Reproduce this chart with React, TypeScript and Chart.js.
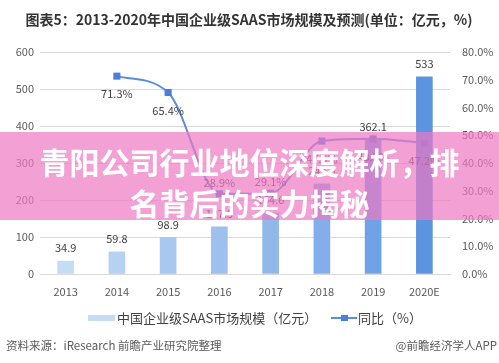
import React, { useEffect, useRef } from 'react';
import { Chart, registerables } from 'chart.js';

Chart.register(...registerables);

const categories = ['2013', '2014', '2015', '2016', '2017', '2018', '2019', '2020E'];
const marketSize = [34.9, 59.8, 98.9, 127.5, 164.6, 243.5, 362.1, 533];
const growthRate: (number | null)[] = [null, 71.3, 65.4, 28.9, 29.1, 47.9, 48.7, 47.2];
const barColors = ['#c6dcf5', '#b6d1f2', '#a9c8f0', '#9dc0ee', '#90b8eb', '#82afe9', '#70a3e6', '#5b95e2'];
const lineLabelSide = ['below', 'below', 'below', 'above', 'above', 'below', 'below', 'below'];

const titleText = '图表5：2013-2020年中国企业级SAAS市场规模及预测(单位：亿元，%)';
const barLegend = '中国企业级SAAS市场规模（亿元）';
const lineLegend = '同比（%）';
const sourceLeft = '资料来源：iResearch 前瞻产业研究院整理';
const sourceRight = '@前瞻经济学人APP';
const bannerLines = ['青阳公司行业地位深度解析，排', '名背后的实力揭秘'];

const FONT = '"Noto Sans CJK SC", "Noto Sans", sans-serif';
const LINE_COLOR = '#5b8ed9';
const MARK_COLOR = '#4a80d5';

const textPlugin = {
  id: 'textPlugin',
  afterDatasetsDraw(chart: any) {
    const ctx = chart.ctx;
    ctx.save();
    ctx.font = `11px ${FONT}`;
    ctx.fillStyle = '#404040';
    ctx.textAlign = 'center';
    ctx.textBaseline = 'middle';
    const barMeta = chart.getDatasetMeta(1);
    barMeta.data.forEach((el: any, i: number) => {
      ctx.fillText(String(marketSize[i]), el.x, el.y - 13);
    });
    const lineMeta = chart.getDatasetMeta(0);
    lineMeta.data.forEach((el: any, i: number) => {
      const v = growthRate[i];
      if (v == null) return;
      const dy = lineLabelSide[i] === 'above' ? -11 : 18;
      ctx.fillText(v.toFixed(1) + '%', el.x, el.y + dy);
    });
    ctx.restore();
  },
  afterDraw(chart: any) {
    const ctx = chart.ctx;
    ctx.save();
    // title
    ctx.font = `bold 14px ${FONT}`;
    ctx.fillStyle = '#333333';
    ctx.textAlign = 'center';
    ctx.textBaseline = 'middle';
    ctx.fillText(titleText, 249, 20);
    // legend
    ctx.fillStyle = barColors[0];
    ctx.fillRect(88, 315, 27, 6);
    ctx.font = `13px ${FONT}`;
    ctx.fillStyle = '#404040';
    ctx.textAlign = 'left';
    ctx.fillText(barLegend, 117, 318);
    ctx.strokeStyle = LINE_COLOR;
    ctx.lineWidth = 2;
    ctx.beginPath();
    ctx.moveTo(331, 318);
    ctx.lineTo(357, 318);
    ctx.stroke();
    ctx.fillStyle = MARK_COLOR;
    ctx.fillRect(341, 315, 7, 6);
    ctx.fillStyle = '#404040';
    ctx.fillText(lineLegend, 358, 318);
    // source
    ctx.font = `11.5px ${FONT}`;
    ctx.fillStyle = '#595959';
    ctx.textAlign = 'left';
    ctx.fillText(sourceLeft, 6, 346);
    ctx.textAlign = 'right';
    ctx.fillText(sourceRight, 497, 346);
    ctx.restore();
  },
};

export default function App() {
  const ref = useRef<HTMLCanvasElement | null>(null);
  useEffect(() => {
    if (!ref.current) return;
    const chart = new Chart(ref.current, {
      type: 'bar',
      data: {
        labels: categories,
        datasets: [
          {
            type: 'line',
            label: lineLegend,
            data: growthRate as any,
            yAxisID: 'y1',
            borderColor: LINE_COLOR,
            borderWidth: 2,
            pointStyle: 'rect',
            pointRadius: 5,
            pointBorderWidth: 0,
            pointBackgroundColor: MARK_COLOR,
            cubicInterpolationMode: 'monotone',
            order: 0,
          } as any,
          {
            type: 'bar',
            label: barLegend,
            data: marketSize,
            yAxisID: 'y',
            backgroundColor: barColors,
            barThickness: 16,
            order: 1,
          },
        ],
      },
      options: {
        responsive: false,
        animation: false,
        devicePixelRatio: 1,
        layout: { padding: { top: 52, bottom: 0, left: 0, right: 0 } },
        plugins: { legend: { display: false }, tooltip: { enabled: false }, title: { display: false } },
        scales: {
          x: {
            grid: { display: false, drawTicks: false },
            border: { display: true, color: '#d9d9d9' },
            ticks: { font: { size: 11, family: FONT }, color: '#595959', padding: 11 },
            afterFit: (s: any) => { s.height = 89; },
          },
          y: {
            position: 'left',
            min: 0,
            max: 600,
            ticks: { stepSize: 100, font: { size: 11, family: FONT }, color: '#595959', padding: 6 },
            grid: { color: '#d9d9d9', drawTicks: false },
            border: { display: false },
            afterFit: (s: any) => { s.width = 40; },
          },
          y1: {
            position: 'right',
            min: 0,
            max: 80,
            ticks: {
              stepSize: 10,
              font: { size: 11, family: FONT },
              color: '#595959',
              padding: 12,
              callback: (v: any) => Number(v).toFixed(1) + '%',
            },
            grid: { display: false, drawTicks: false },
            border: { display: false },
            afterFit: (s: any) => { s.width = 49; },
          },
        },
      },
      plugins: [textPlugin],
    });
    return () => chart.destroy();
  }, []);

  return (
    <div style={{ position: 'absolute', left: 0, top: 0, width: 499, height: 363, background: '#fff', overflow: 'hidden' }}>
      <canvas ref={ref} width={499} height={363} style={{ display: 'block' }} />
      <div
        style={{
          position: 'absolute',
          left: 0,
          top: 132,
          width: 499,
          height: 88,
          background: 'rgba(238,120,195,0.7)',
        }}
      />
      <div
        style={{
          position: 'absolute',
          left: 0,
          top: 141,
          width: 499,
          textAlign: 'center',
          color: '#ffffff',
          fontFamily: FONT,
          fontWeight: 'bold',
          fontSize: 30,
          lineHeight: '41px',
          whiteSpace: 'nowrap',
        }}
      >
        {bannerLines.map((l, i) => (
          <div key={i}>{l}</div>
        ))}
      </div>
    </div>
  );
}
